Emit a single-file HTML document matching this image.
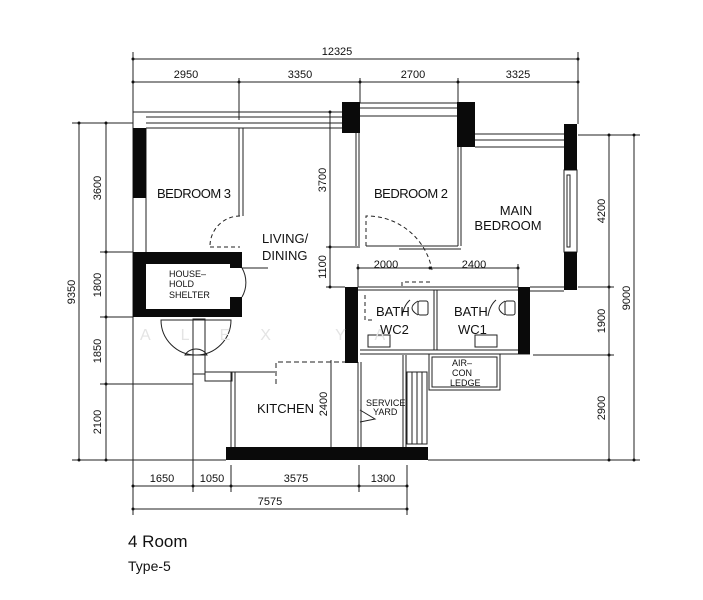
<!DOCTYPE html>
<html><head><meta charset="utf-8"><style>
html,body{margin:0;padding:0;background:#fff;}
svg{display:block}
text{font-family:"Liberation Sans",sans-serif;fill:#111}
</style></head><body>
<svg width="703" height="600" viewBox="0 0 703 600" xmlns="http://www.w3.org/2000/svg">
<g stroke="#222" stroke-width="1" fill="none">
<!-- top dimensions -->
<line x1="133" y1="59" x2="578" y2="59"/>
<line x1="133" y1="82" x2="578" y2="82"/>
<line x1="133" y1="52" x2="133" y2="112"/>
<line x1="578" y1="52" x2="578" y2="124"/>
<line x1="239" y1="78" x2="239" y2="120"/>
<line x1="360" y1="78" x2="360" y2="103"/>
<line x1="458" y1="78" x2="458" y2="103"/>
<!-- left dimensions -->
<line x1="79" y1="123" x2="79" y2="461"/>
<line x1="106" y1="123" x2="106" y2="461"/>
<line x1="72" y1="123" x2="133" y2="123"/>
<line x1="100" y1="252" x2="133" y2="252"/>
<line x1="100" y1="317" x2="133" y2="317"/>
<line x1="100" y1="384" x2="193" y2="384"/>
<line x1="72" y1="460" x2="226" y2="460"/>
<!-- right dimensions -->
<line x1="609" y1="135" x2="609" y2="460"/>
<line x1="634" y1="135" x2="634" y2="460"/>
<line x1="578" y1="135" x2="640" y2="135"/>
<line x1="578" y1="287" x2="614" y2="287"/>
<line x1="533" y1="355" x2="614" y2="355"/>
<line x1="428" y1="460" x2="640" y2="460"/>
<!-- bottom dimensions -->
<line x1="133" y1="486" x2="407" y2="486"/>
<line x1="133" y1="509" x2="407" y2="509"/>
<line x1="133" y1="320" x2="133" y2="515"/>
<line x1="193" y1="320" x2="193" y2="492"/>
<line x1="231" y1="465" x2="231" y2="492"/>
<line x1="359" y1="465" x2="359" y2="492"/>
<line x1="407" y1="465" x2="407" y2="515"/>
<!-- 3700/1100 dim -->
<line x1="330" y1="112" x2="330" y2="287"/>
<line x1="326" y1="247" x2="360" y2="247"/>
<line x1="326" y1="287" x2="345" y2="287"/>
<!-- 2000/2400 dim -->
<line x1="358" y1="268" x2="518" y2="268"/>
<line x1="358" y1="264" x2="358" y2="287"/>
<line x1="518" y1="264" x2="518" y2="287"/>
<!-- 2400 kitchen dim -->
<line x1="331" y1="360" x2="331" y2="447"/>

<!-- top wall bedroom3/living -->
<line x1="133" y1="112" x2="342" y2="112"/>
<line x1="146" y1="117" x2="342" y2="117"/>
<line x1="146" y1="123" x2="342" y2="123"/>
<line x1="146" y1="128" x2="342" y2="128"/>
<line x1="133" y1="112" x2="133" y2="320"/>
<line x1="146" y1="128" x2="146" y2="252"/>
<!-- bedroom3 partition -->
<line x1="239" y1="128" x2="239" y2="216"/>
<line x1="243" y1="128" x2="243" y2="216"/>
<path d="M240 216 A30 30 0 0 0 210 246" stroke-dasharray="4 3"/>
<line x1="210" y1="247" x2="240" y2="247" stroke-dasharray="4 3"/>
<!-- shelter door arc -->
<path d="M242 268 A29 29 0 0 1 242 297"/>
<path d="M242 268 L268 268"/>
<!-- wash basin area -->
<path d="M161 320 A35 35 0 0 0 231 320 Z"/>
<path d="M185 355 A12 10 0 0 1 207 355 Z"/>
<rect x="193" y="319" width="12" height="55"/>
<rect x="205" y="372" width="27" height="9"/>
<!-- kitchen -->
<line x1="231" y1="372" x2="231" y2="447"/>
<line x1="235" y1="372" x2="235" y2="447"/>
<line x1="232" y1="372" x2="275" y2="372"/>
<path d="M276 384 L276 362 L345 362" stroke-dasharray="5 3"/>
<!-- service yard -->
<line x1="358" y1="362" x2="358" y2="447"/>
<line x1="361" y1="362" x2="361" y2="447"/>
<line x1="403" y1="355" x2="403" y2="447"/>
<line x1="406" y1="355" x2="406" y2="447"/>
<path d="M360 410 L375 419 L360 422"/>
<rect x="407" y="372" width="20" height="72"/>
<line x1="412" y1="372" x2="412" y2="444"/>
<line x1="417" y1="372" x2="417" y2="444"/>
<line x1="422" y1="372" x2="422" y2="444"/>
<!-- baths -->
<line x1="358" y1="287" x2="518" y2="287"/>
<line x1="358" y1="290" x2="518" y2="290"/>
<line x1="360" y1="350" x2="518" y2="350"/>
<line x1="360" y1="354" x2="530" y2="354"/>
<line x1="434" y1="290" x2="434" y2="350"/>
<line x1="437" y1="290" x2="437" y2="350"/>
<path d="M365 295 L365 320 L372 320" stroke-dasharray="4 3"/>
<path d="M402 286 L402 282 L432 282" stroke-dasharray="4 3"/>
<path d="M410 300 q-6 5 -8 16"/><path d="M496 300 q-6 5 -8 16"/>
<rect x="418" y="301" width="10" height="14" rx="2"/>
<path d="M418 301 q-12 7 0 14"/>
<rect x="505" y="301" width="10" height="14" rx="2"/>
<path d="M505 301 q-12 7 0 14"/>
<rect x="368" y="335" width="22" height="12"/>
<rect x="475" y="335" width="22" height="12"/>
<!-- aircon ledge -->
<rect x="429" y="354" width="71" height="36"/>
<rect x="432" y="357" width="65" height="30"/>
<!-- bedroom 2 -->
<line x1="360" y1="103" x2="458" y2="103"/>
<line x1="360" y1="108" x2="458" y2="108"/>
<line x1="360" y1="116" x2="458" y2="116"/>
<line x1="356" y1="133" x2="356" y2="246"/>
<line x1="359" y1="133" x2="359" y2="246"/>
<line x1="458" y1="147" x2="458" y2="246"/>
<line x1="461" y1="147" x2="461" y2="246"/>
<line x1="366" y1="246" x2="458" y2="246"/>
<line x1="399" y1="249" x2="461" y2="249"/>
<path d="M366 246 L366 216 A66 66 0 0 1 432 270" stroke-dasharray="4 3"/>
<!-- main bedroom -->
<line x1="475" y1="134" x2="565" y2="134"/>
<line x1="475" y1="140" x2="565" y2="140"/>
<line x1="475" y1="147" x2="565" y2="147"/>
<line x1="530" y1="287" x2="577" y2="287"/>
<line x1="530" y1="291" x2="564" y2="291"/>
<rect x="564" y="170" width="13" height="82"/>
<rect x="567" y="175" width="3" height="72"/>
</g>
<!-- black walls -->
<g fill="#0a0a0a">
<rect x="133" y="128" width="13" height="70"/>
<path d="M133 252 H242 V317 H133 Z M146 264 V309 H230 V297 H242 V268 H230 V264 Z" fill-rule="evenodd"/>
<rect x="342" y="102" width="18" height="31"/>
<rect x="457" y="102" width="18" height="45"/>
<rect x="564" y="124" width="13" height="46"/>
<rect x="564" y="252" width="13" height="38"/>
<rect x="345" y="287" width="13" height="76"/>
<rect x="518" y="287" width="12" height="67"/>
<rect x="226" y="447" width="202" height="13"/>
</g>
<!-- dim ticks -->
<g fill="#111">
<circle cx="133" cy="59" r="1.5"/><circle cx="578" cy="59" r="1.5"/>
<circle cx="133" cy="82" r="1.5"/><circle cx="239" cy="82" r="1.5"/><circle cx="360" cy="82" r="1.5"/><circle cx="458" cy="82" r="1.5"/><circle cx="578" cy="82" r="1.5"/>
<circle cx="79" cy="123" r="1.5"/><circle cx="79" cy="460" r="1.5"/>
<circle cx="106" cy="123" r="1.5"/><circle cx="106" cy="252" r="1.5"/><circle cx="106" cy="317" r="1.5"/><circle cx="106" cy="384" r="1.5"/><circle cx="106" cy="460" r="1.5"/>
<circle cx="609" cy="135" r="1.5"/><circle cx="609" cy="287" r="1.5"/><circle cx="609" cy="355" r="1.5"/><circle cx="609" cy="460" r="1.5"/>
<circle cx="634" cy="135" r="1.5"/><circle cx="634" cy="460" r="1.5"/>
<circle cx="133" cy="486" r="1.5"/><circle cx="193" cy="486" r="1.5"/><circle cx="231" cy="486" r="1.5"/><circle cx="359" cy="486" r="1.5"/><circle cx="407" cy="486" r="1.5"/>
<circle cx="133" cy="509" r="1.5"/><circle cx="407" cy="509" r="1.5"/>
<circle cx="330" cy="112" r="1.5"/><circle cx="330" cy="247" r="1.5"/><circle cx="330" cy="287" r="1.5"/>
<circle cx="358" cy="268" r="1.5"/><circle cx="430" cy="268" r="1.5"/><circle cx="518" cy="268" r="1.5"/>
</g>
<!-- watermark -->
<text x="140" y="340" font-size="16" fill="#e6e6e6" style="fill:#e4e4e4" letter-spacing="30">ALEX YA</text>
<!-- dimension text -->
<g font-size="11">
<text x="337" y="55" text-anchor="middle">12325</text>
<text x="186" y="78" text-anchor="middle">2950</text>
<text x="300" y="78" text-anchor="middle">3350</text>
<text x="413" y="78" text-anchor="middle">2700</text>
<text x="518" y="78" text-anchor="middle">3325</text>
<text x="162" y="482" text-anchor="middle">1650</text>
<text x="212" y="482" text-anchor="middle">1050</text>
<text x="296" y="482" text-anchor="middle">3575</text>
<text x="383" y="482" text-anchor="middle">1300</text>
<text x="270" y="505" text-anchor="middle">7575</text>
<text x="386" y="268" text-anchor="middle">2000</text>
<text x="474" y="268" text-anchor="middle">2400</text>
<text transform="translate(75,292) rotate(-90)" text-anchor="middle">9350</text>
<text transform="translate(101,188) rotate(-90)" text-anchor="middle">3600</text>
<text transform="translate(101,285) rotate(-90)" text-anchor="middle">1800</text>
<text transform="translate(101,351) rotate(-90)" text-anchor="middle">1850</text>
<text transform="translate(101,422) rotate(-90)" text-anchor="middle">2100</text>
<text transform="translate(326,180) rotate(-90)" text-anchor="middle">3700</text>
<text transform="translate(326,267) rotate(-90)" text-anchor="middle">1100</text>
<text transform="translate(327,404) rotate(-90)" text-anchor="middle">2400</text>
<text transform="translate(605,211) rotate(-90)" text-anchor="middle">4200</text>
<text transform="translate(605,321) rotate(-90)" text-anchor="middle">1900</text>
<text transform="translate(605,408) rotate(-90)" text-anchor="middle">2900</text>
<text transform="translate(630,298) rotate(-90)" text-anchor="middle">9000</text>
</g>
<!-- room labels -->
<g font-size="13">
<text x="157" y="198" textLength="74">BEDROOM 3</text>
<text x="374" y="198" textLength="74">BEDROOM 2</text>
<text x="516" y="215" text-anchor="middle">MAIN</text>
<text x="508" y="230" text-anchor="middle">BEDROOM</text>
<text x="262" y="243">LIVING/</text>
<text x="262" y="260">DINING</text>
<text x="257" y="413">KITCHEN</text>
<text x="376" y="316">BATH</text>
<text x="380" y="334">WC2</text>
<text x="454" y="316">BATH</text>
<text x="458" y="334">WC1</text>
</g>
<g font-size="9">
<text x="169" y="277">HOUSE–</text>
<text x="169" y="287">HOLD</text>
<text x="169" y="298">SHELTER</text>
<text x="366" y="406">SERVICE</text>
<text x="373" y="415">YARD</text>
<text x="452" y="366">AIR–</text>
<text x="452" y="376">CON</text>
<text x="450" y="386">LEDGE</text>
</g>
<text x="128" y="547" font-size="17">4 Room</text>
<text x="128" y="571" font-size="14">Type-5</text>
</svg>
</body></html>
